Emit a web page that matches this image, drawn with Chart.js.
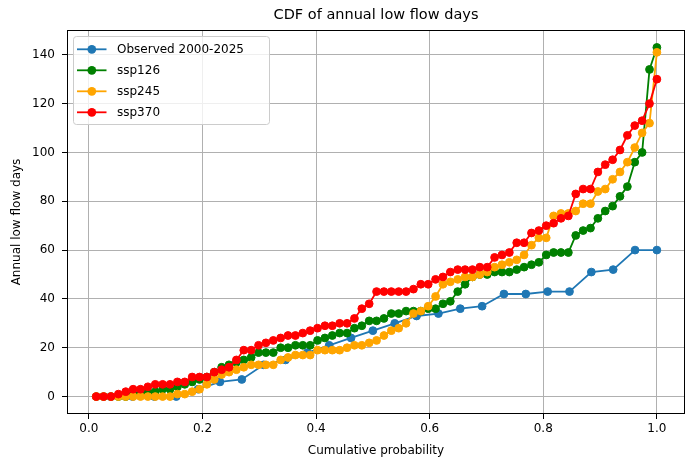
<!DOCTYPE html>
<html>
<head>
<meta charset="utf-8">
<script src="https://cdn.jsdelivr.net/npm/chart.js@4"></script>
<style>
  html, body { margin: 0; padding: 0; background: #fff; }
</style>
</head>
<body>
<canvas id="cdfChart" width="695" height="468"></canvas>
<script>
// annual low flow days, sorted ascending
const observedDays = [0, 0, 0, 0, 3, 6, 7, 13, 15, 18, 21, 24, 27, 30, 33, 34, 36, 37, 42, 42, 43, 43, 51, 52, 60, 60];
const ssp126Days = [0, 0, 0, 0, 0, 1, 1, 2, 2, 3, 3, 4, 5, 6, 7, 8, 10, 12, 13, 14,
  15, 16, 18, 18, 18, 20, 20, 21, 21, 21, 23, 24, 25, 26, 26, 28, 29, 31, 31, 32,
  34, 34, 35, 35, 35, 36, 36, 38, 39, 43, 46, 49, 50, 50, 51, 51, 51, 52, 53, 54,
  55, 58, 59, 59, 59, 66, 68, 69, 73, 76, 78, 82, 86, 96, 100, 134, 143];
const ssp245Days = [0, 0, 0, 0, 0, 0, 0, 0, 0, 0, 0, 1, 1, 2, 3, 5, 7, 9, 10, 11,
  12, 13, 13, 13, 13, 15, 16, 17, 17, 17, 19, 19, 19, 19, 20, 21, 21, 22, 23, 25,
  27, 28, 30, 34, 35, 37, 41, 46, 47, 48, 49, 49, 50, 51, 53, 54, 55, 56, 58, 62,
  65, 65, 74, 75, 75, 76, 79, 79, 84, 85, 89, 92, 96, 102, 108, 112, 141];
const ssp370Days = [0, 0, 0, 1, 2, 3, 3, 4, 5, 5, 5, 6, 6, 8, 8, 8, 10, 11, 12, 15,
  19, 19, 21, 22, 23, 24, 25, 25, 26, 27, 28, 29, 29, 30, 30, 32, 36, 38, 43, 43,
  43, 43, 43, 44, 46, 46, 48, 49, 51, 52, 52, 52, 53, 53, 57, 58, 59, 63, 63, 67,
  68, 70, 71, 73, 74, 83, 85, 85, 92, 95, 97, 101, 107, 111, 113, 120, 130];

const seriesLabels = ['Observed 2000-2025', 'ssp126', 'ssp245', 'ssp370'];
const seriesColors = ['#1f77b4', '#008000', '#ffa500', '#ff0000'];
const xTickValues = [0, 0.2, 0.4, 0.6, 0.8, 1.0];
const yTickValues = [0, 20, 40, 60, 80, 100, 120, 140];

const FONT = 'DejaVu Sans';

// empirical CDF: k-th sorted value sits at k/n
function toCdf(values) {
  return values.map((v, k) => ({ x: (k + 1) / values.length, y: v }));
}

const allSeries = [observedDays, ssp126Days, ssp245Days, ssp370Days];

const datasets = allSeries.map((vals, i) => ({
  label: seriesLabels[i],
  data: toCdf(vals),
  borderColor: seriesColors[i],
  backgroundColor: seriesColors[i],
  pointBackgroundColor: seriesColors[i],
  pointBorderColor: seriesColors[i],
  borderWidth: 1.8,
  pointRadius: 3.9,
  pointBorderWidth: 1,
  showLine: true,
  tension: 0,
  order: allSeries.length - 1 - i   // later series drawn on top, like matplotlib
}));

// matplotlib draws all four spines
const frame = {
  id: 'frame',
  afterDatasetsDraw(chart) {
    const { ctx, chartArea: a } = chart;
    ctx.save();
    ctx.strokeStyle = '#000';
    ctx.lineWidth = 1;
    ctx.strokeRect(Math.round(a.left) + 0.5, Math.round(a.top) + 0.5,
      Math.round(a.right - a.left) - 1, Math.round(a.bottom - a.top) - 1);
    ctx.restore();
  }
};

// legend box in the upper-left corner with line + marker handles
const legendBox = {
  id: 'legendBox',
  afterDatasetsDraw(chart) {
    const { ctx, chartArea: a } = chart;
    const x0 = a.left + 6.5, y0 = a.top + 6.5;
    const w = 196, h = 88, rowH = 21, r = 3;
    ctx.save();
    ctx.beginPath();
    ctx.moveTo(x0 + r, y0);
    ctx.arcTo(x0 + w, y0, x0 + w, y0 + h, r);
    ctx.arcTo(x0 + w, y0 + h, x0, y0 + h, r);
    ctx.arcTo(x0, y0 + h, x0, y0, r);
    ctx.arcTo(x0, y0, x0 + w, y0, r);
    ctx.closePath();
    ctx.fillStyle = 'rgba(255,255,255,0.8)';
    ctx.fill();
    ctx.strokeStyle = '#cccccc';
    ctx.lineWidth = 1;
    ctx.stroke();

    ctx.font = '12px "' + FONT + '"';
    ctx.textBaseline = 'middle';
    chart.data.datasets.forEach((ds, i) => {
      const cy = y0 + 12.8 + i * rowH;
      ctx.strokeStyle = ds.borderColor;
      ctx.lineWidth = 1.8;
      ctx.beginPath();
      ctx.moveTo(x0 + 3.5, cy);
      ctx.lineTo(x0 + 33, cy);
      ctx.stroke();
      ctx.beginPath();
      ctx.arc(x0 + 18.3, cy, 4.4, 0, Math.PI * 2);
      ctx.fillStyle = ds.borderColor;
      ctx.fill();
      ctx.fillStyle = '#000';
      ctx.fillText(ds.label, x0 + 43.5, cy + 0.5);
    });
    ctx.restore();
  }
};

new Chart(document.getElementById('cdfChart'), {
  type: 'scatter',
  data: { datasets },
  options: {
    responsive: false,
    animation: false,
    events: [],
    layout: { padding: { left: 0, right: 10, top: 0, bottom: 0 } },
    plugins: {
      legend: { display: false },
      tooltip: { enabled: false },
      title: {
        display: true,
        text: 'CDF of annual low flow days',
        fullSize: false,
        color: '#000',
        font: { family: FONT, size: 14.5, weight: 'normal' },
        padding: { top: 7, bottom: 5.6 }
      }
    },
    scales: {
      x: {
        type: 'linear',
        min: -0.0385,
        max: 1.0495,
        afterFit(scale) { scale.height = 54; },
        afterBuildTicks(scale) { scale.ticks = xTickValues.map(v => ({ value: v })); },
        ticks: {
          color: '#000',
          font: { family: FONT, size: 12 },
          padding: 3,
          maxRotation: 0,
          callback: v => v.toFixed(1)
        },
        grid: { color: '#b0b0b0', lineWidth: 1, tickColor: '#000', tickLength: 5 },
        border: { display: false },
        title: {
          display: true,
          text: 'Cumulative probability',
          color: '#000',
          font: { family: FONT, size: 12 },
          padding: { top: 0, bottom: 9.8 }
        }
      },
      y: {
        type: 'linear',
        min: -7.15,
        max: 150.15,
        afterFit(scale) { scale.width = 67; },
        afterBuildTicks(scale) { scale.ticks = yTickValues.map(v => ({ value: v })); },
        ticks: {
          color: '#000',
          font: { family: FONT, size: 12 },
          padding: 7,
          callback: v => String(v)
        },
        grid: { color: '#b0b0b0', lineWidth: 1, tickColor: '#000', tickLength: 5 },
        border: { display: false },
        title: {
          display: true,
          text: 'Annual low flow days',
          color: '#000',
          font: { family: FONT, size: 12 },
          padding: { top: 10, bottom: 0 }
        }
      }
    }
  },
  plugins: [frame, legendBox]
});
</script>
</body>
</html>
